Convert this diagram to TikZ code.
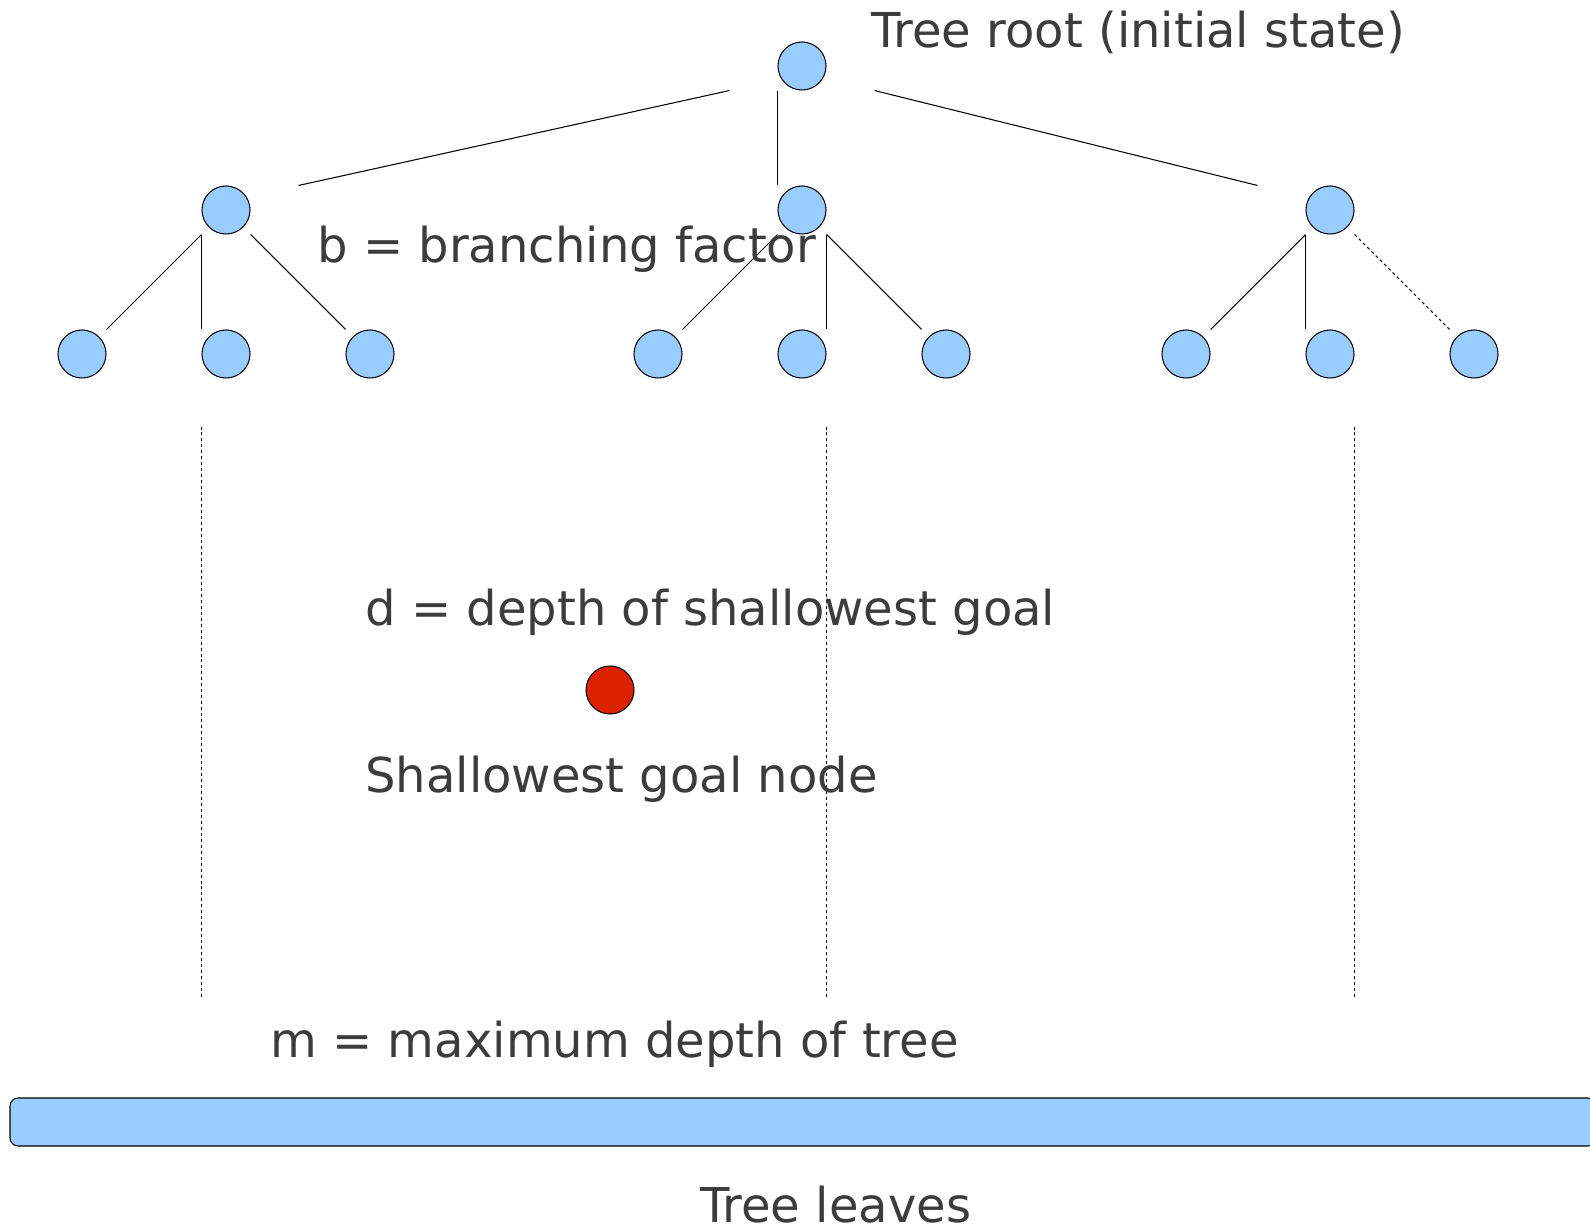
\documentclass[tikz,border=0pt]{standalone}
\usepackage{fontspec}
\setmainfont{DejaVu Sans}
\usetikzlibrary{calc}
\definecolor{nodeblue}{RGB}{153,204,255}
\definecolor{goalred}{RGB}{221,34,0}
\definecolor{labelgray}{RGB}{60,60,60}
\begin{document}
\begin{tikzpicture}[x=0.02cm,y=-0.02cm,
  vertex/.style={rectangle,rounded corners=0.48cm,draw,line width=0.6pt,fill=nodeblue,minimum size=0.96cm,inner sep=0pt},
  goal/.style={vertex,fill=goalred},
  lbl/.style={anchor=base west,inner sep=0pt,text=labelgray,font=\fontsize{27.35}{32}\selectfont},
  edge/.style={line width=0.6pt},
  thin dash/.style={line width=0.6pt,dash pattern=on 1.7pt off 1.7pt}]
\useasboundingbox (0,0) rectangle (1590,1226);
% root and first level
\node[vertex] (root) at (802,66) {};
\node[vertex] (l1) at (226,210) {};
\node[vertex] (m1) at (802,210) {};
\node[vertex] (r1) at (1330,210) {};
% second level
\node[vertex] (ll) at (82,354) {};
\node[vertex] (lm) at (226,354) {};
\node[vertex] (lr) at (370,354) {};
\node[vertex] (ml) at (658,354) {};
\node[vertex] (mm) at (802,354) {};
\node[vertex] (mr) at (946,354) {};
\node[vertex] (rl) at (1186,354) {};
\node[vertex] (rm) at (1330,354) {};
\node[vertex] (rr) at (1474,354) {};
\draw[edge] ($(root.south west)+(-48,0)$)--($(l1.north east)+(48,0)$);
\draw[edge] (root.south west)--(m1.north west);
\draw[edge] ($(root.south east)+(48,0)$)--($(r1.north west)+(-48,0)$);
\draw[edge] (l1.south west)--(ll.north east);
\draw[edge] (l1.south west)--(lm.north west);
\draw[edge] (l1.south east)--(lr.north west);
\draw[edge] (m1.south west)--(ml.north east);
\draw[edge] (m1.south east)--(mm.north east);
\draw[edge] (m1.south east)--(mr.north west);
\draw[edge] (r1.south west)--(rl.north east);
\draw[edge] (r1.south west)--(rm.north west);
\draw[thin dash] (r1.south east)--(rr.north west);
% depth lines
\draw[thin dash] ($(lm.south west)+(0,48)$)--++(0,573);
\draw[thin dash] ($(mm.south east)+(0,48)$)--++(0,573);
\draw[thin dash] ($(rm.south east)+(0,48)$)--++(0,573);
% goal and leaves
\node[goal] (goal) at (610,690) {};
\draw[line width=0.6pt,fill=nodeblue,rounded corners=0.16cm] (10,1098) rectangle (1596,1146);
% labels
\node[lbl] (rootlbl) at (871,48) {Tree root (initial state)};
\node[lbl] (blbl) at (317,263) {b = branching factor};
\node[lbl] (dlbl) at (365,625) {d = depth of shallowest goal};
\node[lbl] (goallbl) at (365,792) {Shallowest goal node};
\node[lbl] (mlbl) at (270,1057) {m = maximum depth of tree};
\node[lbl] (leaveslbl) at (700,1222) {Tree leaves};
\end{tikzpicture}
\end{document}
